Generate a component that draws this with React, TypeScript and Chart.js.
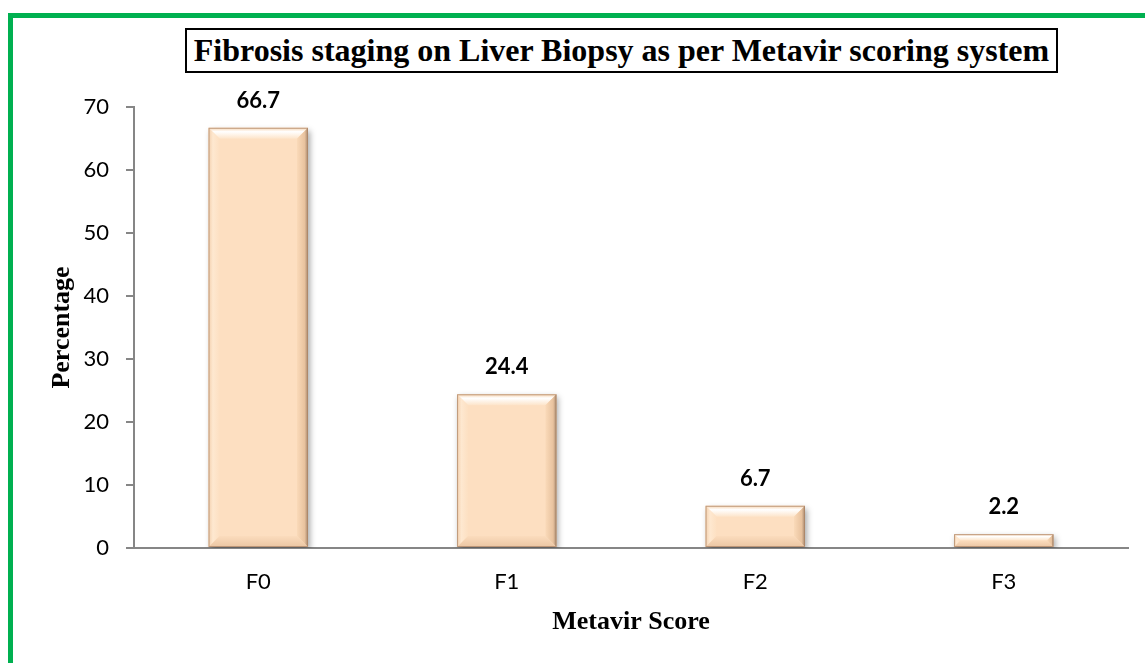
import React, { useEffect, useRef } from "react";
import { Chart, registerables } from "chart.js";

Chart.register(...registerables);

const categories = ["F0", "F1", "F2", "F3"];
const percentages = [66.7, 24.4, 6.7, 2.2];
const yTicks = [0, 10, 20, 30, 40, 50, 60, 70];

const titleText = "Fibrosis staging on Liver Biopsy as per Metavir scoring system";
const xTitle = "Metavir Score";
const yTitle = "Percentage";

const SANS = "Lato, 'Open Sans', 'DejaVu Sans', sans-serif";
const SERIF = "'Liberation Serif', 'DejaVu Serif', serif";

const shadowPlugin = {
  id: "barShadow",
  beforeDatasetsDraw(chart: any) {
    const ctx = chart.ctx;
    ctx.save();
    ctx.shadowColor = "rgba(0,0,0,0.35)";
    ctx.shadowBlur = 6;
    ctx.shadowOffsetX = 2;
    ctx.shadowOffsetY = 3;
  },
  afterDatasetsDraw(chart: any) {
    chart.ctx.restore();
  },
};

const bevelPlugin = {
  id: "bevel",
  afterDatasetsDraw(chart: any) {
    const ctx = chart.ctx;
    const meta = chart.getDatasetMeta(0);
    meta.data.forEach((bar: any) => {
      const { x, y, base, width } = bar.getProps(["x", "y", "base", "width"], true);
      const l = x - width / 2;
      const r = x + width / 2;
      const t = Math.min(y, base);
      const bt = Math.max(y, base);
      const b = Math.min(11, (bt - t) / 2);
      ctx.save();
      let g = ctx.createLinearGradient(0, t, 0, t + b);
      g.addColorStop(0, "#F6D3B0");
      g.addColorStop(0.35, "#FFFFFF");
      g.addColorStop(1, "#FDE4C9");
      ctx.fillStyle = g;
      ctx.beginPath();
      ctx.moveTo(l, t);
      ctx.lineTo(r, t);
      ctx.lineTo(r - b, t + b);
      ctx.lineTo(l + b, t + b);
      ctx.closePath();
      ctx.fill();
      g = ctx.createLinearGradient(l, 0, l + b, 0);
      g.addColorStop(0, "#F3D0AE");
      g.addColorStop(0.4, "#FEE8D0");
      g.addColorStop(1, "#FDE0C2");
      ctx.fillStyle = g;
      ctx.beginPath();
      ctx.moveTo(l, t);
      ctx.lineTo(l + b, t + b);
      ctx.lineTo(l + b, bt - b);
      ctx.lineTo(l, bt);
      ctx.closePath();
      ctx.fill();
      g = ctx.createLinearGradient(r - b, 0, r, 0);
      g.addColorStop(0, "#FADAB9");
      g.addColorStop(0.7, "#E8C29E");
      g.addColorStop(1, "#A88A70");
      ctx.fillStyle = g;
      ctx.beginPath();
      ctx.moveTo(r, t);
      ctx.lineTo(r, bt);
      ctx.lineTo(r - b, bt - b);
      ctx.lineTo(r - b, t + b);
      ctx.closePath();
      ctx.fill();
      g = ctx.createLinearGradient(0, bt - b, 0, bt);
      g.addColorStop(0, "#FBDCBD");
      g.addColorStop(1, "#EBC6A3");
      ctx.fillStyle = g;
      ctx.beginPath();
      ctx.moveTo(l, bt);
      ctx.lineTo(r, bt);
      ctx.lineTo(r - b, bt - b);
      ctx.lineTo(l + b, bt - b);
      ctx.closePath();
      ctx.fill();
      ctx.strokeStyle = "rgba(170,130,100,0.7)";
      ctx.lineWidth = 1;
      ctx.strokeRect(l + 0.5, t + 0.5, width - 1, bt - t - 1);
      ctx.restore();
    });
  },
};

const valueLabelPlugin = {
  id: "valueLabels",
  afterDatasetsDraw(chart: any) {
    const ctx = chart.ctx;
    const meta = chart.getDatasetMeta(0);
    const data = chart.data.datasets[0].data;
    ctx.save();
    ctx.font = `bold 22px ${SANS}`;
    ctx.fillStyle = "#000";
    ctx.textAlign = "center";
    ctx.textBaseline = "middle";
    meta.data.forEach((bar: any, i: number) => {
      ctx.fillText(String(data[i]), bar.x, bar.y - 27);
    });
    ctx.restore();
  },
};

export default function App() {
  const canvasRef = useRef<HTMLCanvasElement>(null);

  useEffect(() => {
    if (!canvasRef.current) return;
    const chart = new Chart(canvasRef.current, {
      type: "bar",
      data: {
        labels: categories,
        datasets: [
          {
            data: percentages,
            backgroundColor: "#FDDFC1",
            borderWidth: 0,
            categoryPercentage: 1,
            barPercentage: 0.4,
          },
        ],
      },
      options: {
        responsive: false,
        animation: false,
        layout: { padding: { top: 107, left: 47, right: 17, bottom: 10 } },
        plugins: {
          legend: { display: false },
          title: { display: false },
          tooltip: { enabled: false },
        },
        scales: {
          x: {
            grid: { display: false, drawTicks: false },
            border: { display: true, color: "#868686", width: 2 },
            ticks: { color: "#000", font: { family: SANS, size: 22 }, padding: 21 },
            title: {
              display: true,
              text: xTitle,
              color: "#000",
              font: { family: SERIF, size: 26, weight: "bold" },
              padding: { top: 0, bottom: 15 },
            },
            afterFit: (s: any) => {
              s.height = 105;
            },
          },
          y: {
            min: 0,
            max: 70,
            afterBuildTicks: (s: any) => {
              s.ticks = yTicks.map((v) => ({ value: v }));
            },
            grid: { drawOnChartArea: false, color: "#868686", tickLength: 8, lineWidth: 2 },
            border: { display: true, color: "#868686", width: 2 },
            ticks: { color: "#000", font: { family: SANS, size: 22 }, padding: 17 },
            title: {
              display: true,
              text: yTitle,
              color: "#000",
              font: { family: SERIF, size: 26, weight: "bold" },
              padding: { top: 0, bottom: 0 },
            },
            afterFit: (s: any) => {
              s.width = 87;
            },
          },
        },
      },
      plugins: [shadowPlugin, bevelPlugin, valueLabelPlugin],
    });
    return () => chart.destroy();
  }, []);

  return (
    <div
      style={{
        position: "fixed",
        left: 0,
        top: 0,
        width: 1145,
        height: 663,
        overflow: "hidden",
        background: "#fff",
      }}
    >
      <canvas
        ref={canvasRef}
        width={1145}
        height={663}
        style={{ position: "absolute", left: 0, top: 0, width: 1145, height: 663 }}
      />
      <div
        style={{
          position: "absolute",
          left: 8,
          top: 13,
          width: 2000,
          height: 2000,
          border: "5px solid #00B050",
          boxSizing: "border-box",
          pointerEvents: "none",
        }}
      />
      <div
        style={{
          position: "absolute",
          left: 185,
          top: 28,
          width: 873,
          height: 45,
          border: "2px solid #000",
          boxSizing: "border-box",
          background: "#fff",
          display: "flex",
          alignItems: "center",
          justifyContent: "center",
          fontFamily: SERIF,
          fontWeight: "bold",
          fontSize: 32,
          whiteSpace: "nowrap",
          color: "#000",
        }}
      >
        {titleText}
      </div>
    </div>
  );
}
